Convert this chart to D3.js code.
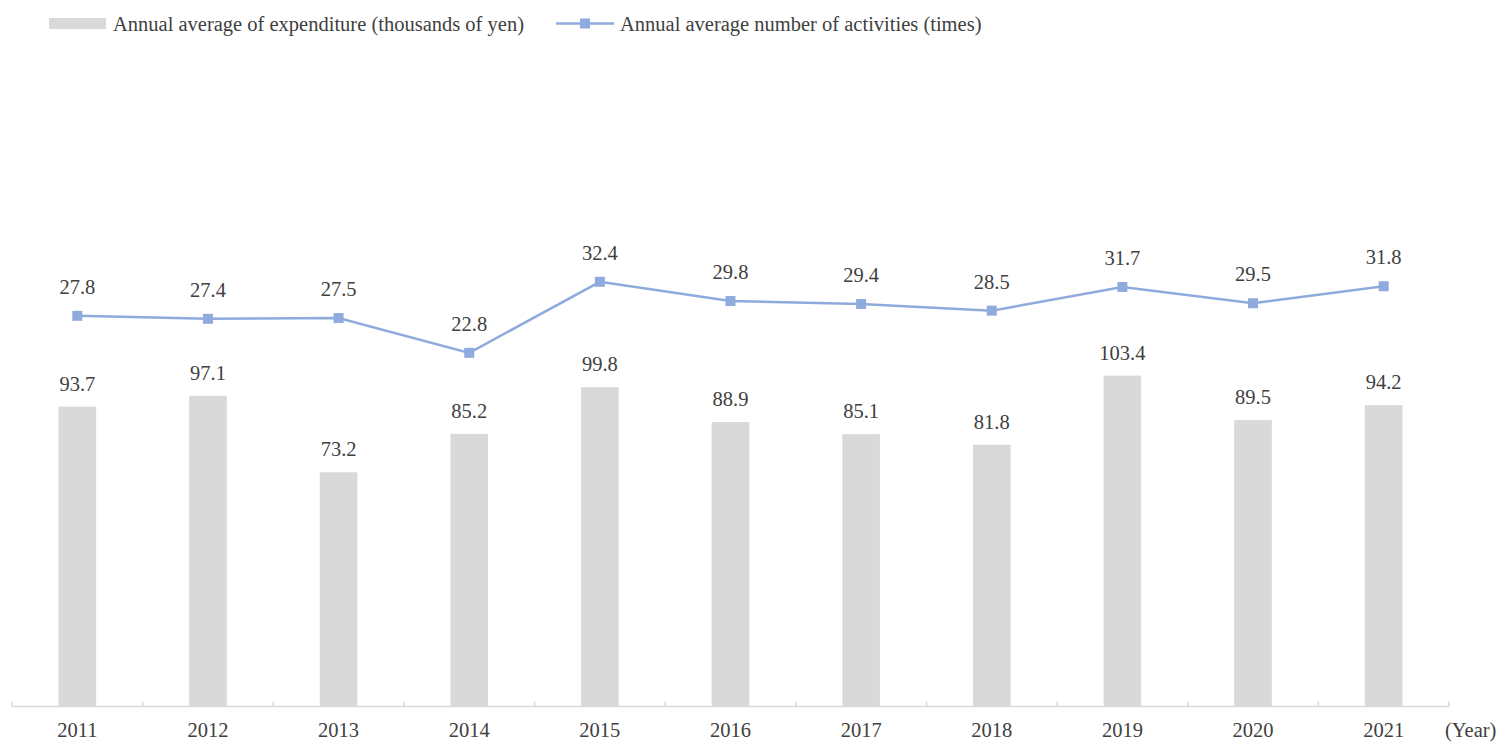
<!DOCTYPE html>
<html lang="en">
<head>
    <meta charset="UTF-8">
    <title>Annual expenditure and activities</title>
    <script src="https://d3js.org/d3.v7.min.js"></script>
    <style>
        body { margin: 0; background: #fff; }
        svg text { font-family: "Liberation Serif", "Times New Roman", Times, serif; fill: #404040; font-size: 20.5px; }
    </style>
</head>
<body>
<svg width="1502" height="742"></svg>
<script>
    // chart data
    const years = ["2011", "2012", "2013", "2014", "2015", "2016", "2017", "2018", "2019", "2020", "2021"];
    const expenditure = [93.7, 97.1, 73.2, 85.2, 99.8, 88.9, 85.1, 81.8, 103.4, 89.5, 94.2];
    const activities = [27.8, 27.4, 27.5, 22.8, 32.4, 29.8, 29.4, 28.5, 31.7, 29.5, 31.8];
    const seriesNames = ["Annual average of expenditure (thousands of yen)", "Annual average number of activities (times)"];

    const svg = d3.select("svg");
    const barColor = "#d9d9d9", lineColor = "#8faadc";
    const baseY = 706.5, topY = 66.5, left = 12, right = 1449;

    // scales: bars on primary axis, line on secondary axis
    const x = d3.scaleBand().domain(years).range([left, right]).paddingInner(0.712).paddingOuter(0.356);
    const yBar = d3.scaleLinear().domain([0, 200]).range([baseY, topY]);
    const yLine = d3.scaleLinear().domain([-25, 61.5]).range([baseY, topY]);
    const cx = (d, i) => x(years[i]) + x.bandwidth() / 2;

    // bars
    svg.append("g").selectAll("rect")
        .data(expenditure)
        .join("rect")
        .attr("x", (d, i) => x(years[i]))
        .attr("y", d => yBar(d))
        .attr("width", x.bandwidth())
        .attr("height", d => baseY - yBar(d))
        .attr("fill", barColor);

    svg.append("g").selectAll("text")
        .data(expenditure)
        .join("text")
        .attr("x", cx)
        .attr("y", d => yBar(d) - 16)
        .attr("text-anchor", "middle")
        .text(d => d.toFixed(1));

    // x axis: line, inward ticks at band edges, year labels
    const ax = svg.append("g");
    ax.append("line")
        .attr("x1", left).attr("x2", right)
        .attr("y1", baseY).attr("y2", baseY)
        .attr("stroke", "#d9d9d9").attr("stroke-width", 1.5);
    ax.selectAll(".tick")
        .data(d3.range(years.length + 1))
        .join("line")
        .attr("class", "tick")
        .attr("x1", i => left + i * x.step()).attr("x2", i => left + i * x.step())
        .attr("y1", baseY - 5).attr("y2", baseY)
        .attr("stroke", "#d9d9d9").attr("stroke-width", 1.5);
    ax.selectAll(".year")
        .data(years)
        .join("text")
        .attr("class", "year")
        .attr("x", (d, i) => cx(d, i))
        .attr("y", 737)
        .attr("text-anchor", "middle")
        .text(d => d);
    ax.append("text")
        .attr("x", 1445).attr("y", 737)
        .text("(Year)");

    // line series
    svg.append("path")
        .datum(activities)
        .attr("d", d3.line().x(cx).y(d => yLine(d)))
        .attr("fill", "none")
        .attr("stroke", lineColor)
        .attr("stroke-width", 2.5);

    svg.append("g").selectAll("rect")
        .data(activities)
        .join("rect")
        .attr("x", (d, i) => cx(d, i) - 5)
        .attr("y", d => yLine(d) - 5)
        .attr("width", 10).attr("height", 10)
        .attr("fill", lineColor);

    svg.append("g").selectAll("text")
        .data(activities)
        .join("text")
        .attr("x", cx)
        .attr("y", d => yLine(d) - 22)
        .attr("text-anchor", "middle")
        .text(d => d.toFixed(1));

    // legend
    const lg = svg.append("g");
    lg.append("rect").attr("x", 49).attr("y", 18).attr("width", 57).attr("height", 11).attr("fill", barColor);
    lg.append("text").attr("x", 113).attr("y", 30.5).text(seriesNames[0]);
    lg.append("line").attr("x1", 556).attr("x2", 614).attr("y1", 23.5).attr("y2", 23.5)
        .attr("stroke", lineColor).attr("stroke-width", 2.5);
    lg.append("rect").attr("x", 580).attr("y", 18.5).attr("width", 10).attr("height", 10).attr("fill", lineColor);
    lg.append("text").attr("x", 620).attr("y", 30.5).text(seriesNames[1]);
</script>
</body>
</html>
